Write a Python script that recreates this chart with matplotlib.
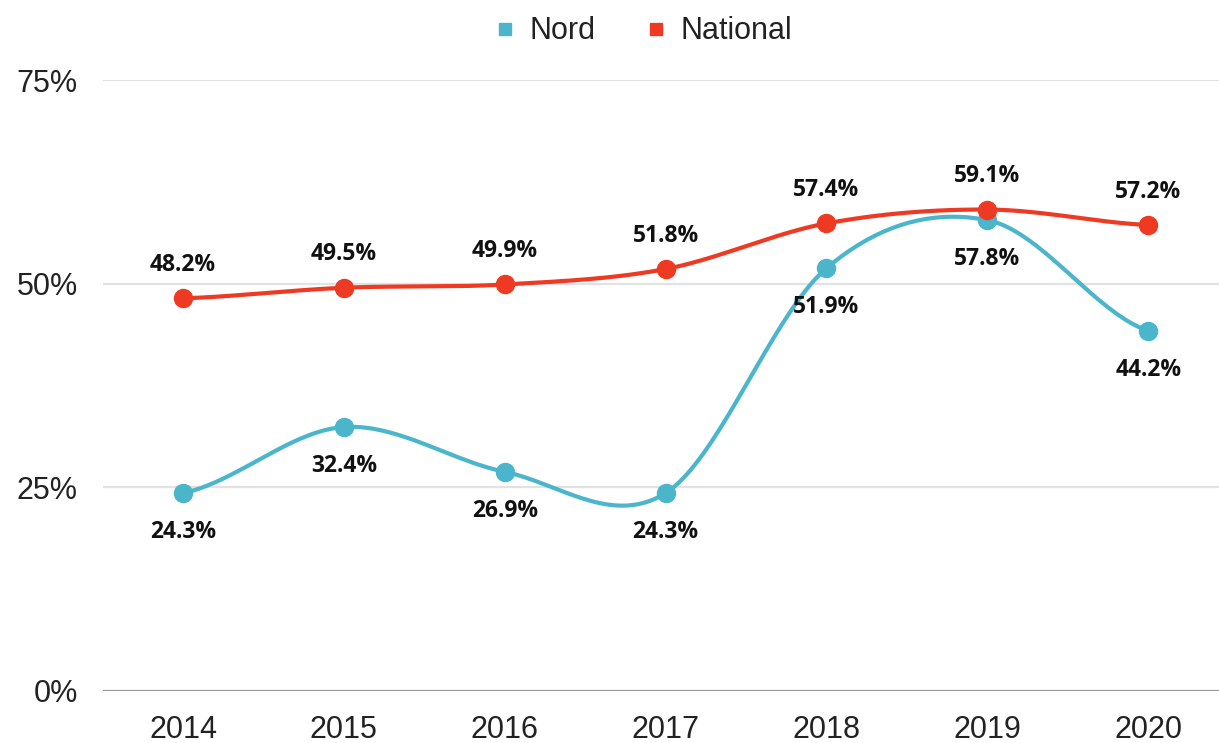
import numpy as np
import matplotlib
matplotlib.use('Agg')
import matplotlib.pyplot as plt
from matplotlib.lines import Line2D

years = ['2014', '2015', '2016', '2017', '2018', '2019', '2020']
nord = [24.3, 32.4, 26.9, 24.3, 51.9, 57.8, 44.2]
national = [48.2, 49.5, 49.9, 51.8, 57.4, 59.1, 57.2]
y_ticks = [0, 25, 50, 75]

NORD_COLOR = '#4bb6cb'
NAT_COLOR = '#ee3a23'


def catmull_rom(x, y, steps=40):
    # smooth curve through the points (cardinal spline, like the source chart)
    x = np.asarray(x, float)
    y = np.asarray(y, float)
    xs, ys = [], []
    n = len(x)
    for i in range(n - 1):
        p0 = y[i - 1] if i > 0 else y[i]
        p3 = y[i + 2] if i + 2 < n else y[i + 1]
        m1 = (y[i + 1] - p0) / 2
        m2 = (p3 - y[i]) / 2
        t = np.linspace(0, 1, steps)
        h00 = 2 * t**3 - 3 * t**2 + 1
        h10 = t**3 - 2 * t**2 + t
        h01 = -2 * t**3 + 3 * t**2
        h11 = t**3 - t**2
        xs.append(x[i] + t * (x[i + 1] - x[i]))
        ys.append(h00 * y[i] + h10 * m1 + h01 * y[i + 1] + h11 * m2)
    return np.concatenate(xs), np.concatenate(ys)


plt.rcParams['font.family'] = ['Liberation Sans', 'DejaVu Sans']

fig = plt.figure(figsize=(12.19, 7.43), dpi=100)
ax = fig.add_axes([0.0842, 0.070, 0.9237, 0.8223])
ax.set_xlim(-0.5, len(years) - 0.5)
ax.set_ylim(0, 75)

xpos = np.arange(len(years))

for yt in y_ticks:
    ax.axhline(yt, color='#9a9a9a' if yt == 0 else '#e2e2e2', lw=1.6, zorder=0)

for vals, color, above in [(nord, NORD_COLOR, False), (national, NAT_COLOR, True)]:
    sx, sy = catmull_rom(xpos, vals)
    ax.plot(sx, sy, color=color, lw=3, solid_capstyle='round', zorder=2)
    ax.plot(xpos, vals, 'o', color=color, ms=13, zorder=3)
    for xi, v in zip(xpos, vals):
        ax.annotate(f'{v:.1f}%', (xi, v), xytext=(0, 24 if above else -28),
                    textcoords='offset points', ha='center', va='center',
                    fontsize=16.5, fontweight='bold', family=['Open Sans', 'DejaVu Sans'],
                    color='#111111', zorder=4)

ax.set_xticks(xpos)
ax.set_xticklabels(years)
ax.set_yticks(y_ticks)
ax.set_yticklabels([f'{t}%' for t in y_ticks])
ax.tick_params(axis='both', length=0, labelsize=22, colors='#222222')
ax.tick_params(axis='x', pad=17)
ax.tick_params(axis='y', pad=18)
for s in ax.spines.values():
    s.set_visible(False)

handles = [Line2D([], [], marker='s', ls='none', color=NORD_COLOR, ms=9, label='Nord'),
           Line2D([], [], marker='s', ls='none', color=NAT_COLOR, ms=9, label='National')]
fig.legend(handles=handles, loc='center', bbox_to_anchor=(0.527, 0.958), ncol=2,
           frameon=False, fontsize=22, handlelength=0.8, handletextpad=0.4,
           columnspacing=1.6, labelcolor='#222222')

fig.savefig('out.png', dpi=100)
